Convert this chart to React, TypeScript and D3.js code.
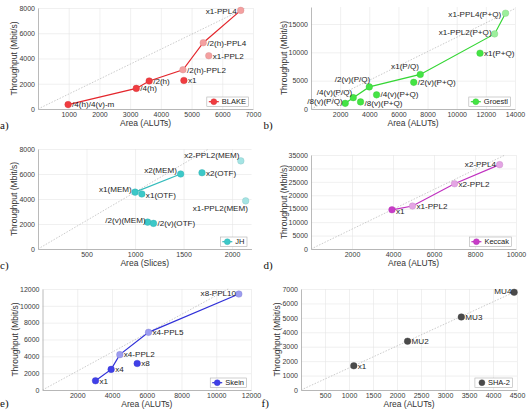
import { useEffect, useRef } from 'react';
import * as d3 from 'd3';

// a) BLAKE
const blakeDesigns = ['/4(h)/4(v)-m', '/4(h)', '/2(h)', '/2(h)-PPL2', '/2(h)-PPL4', 'x1-PPL4', 'x1', 'x1-PPL2'];
const blakeArea = [980, 3200, 3620, 4720, 5380, 6600, 4750, 5560];
const blakeThroughput = [350, 1630, 2220, 3110, 5250, 7810, 2260, 4220];
const blakeFront = ['/4(h)/4(v)-m', '/4(h)', '/2(h)', '/2(h)-PPL2', '/2(h)-PPL4', 'x1-PPL4'];
const blakeXTicks = [1000, 2000, 3000, 4000, 5000, 6000, 7000];
const blakeYTicks = [0, 2000, 4000, 6000, 8000];

// b) Groestl
const groestlDesigns = ['/8(v)(P/Q)', '/4(v)(P/Q)', '/2(v)(P/Q)', 'x1(P/Q)', 'x1-PPL2(P+Q)', 'x1-PPL4(P+Q)', '/8(v)(P+Q)', '/4(v)(P+Q)', '/2(v)(P+Q)', 'x1(P+Q)'];
const groestlArea = [2350, 2900, 4000, 7500, 12600, 13350, 3400, 4500, 7050, 11600];
const groestlThroughput = [1000, 2000, 3900, 6100, 13250, 16900, 1250, 2500, 4700, 9850];
const groestlFront = ['/8(v)(P/Q)', '/4(v)(P/Q)', '/2(v)(P/Q)', 'x1(P/Q)', 'x1-PPL2(P+Q)', 'x1-PPL4(P+Q)'];
const groestlXTicks = [2000, 4000, 6000, 8000, 10000, 12000, 14000];
const groestlYTicks = [0, 5000, 10000, 15000];

// c) JH
const jhDesigns = ['x1(MEM)', 'x2(MEM)', 'x1(OTF)', 'x2(OTF)', '/2(v)(MEM)', '/2(v)(OTF)', 'x1-PPL2(MEM)', 'x2-PPL2(MEM)'];
const jhArea = [1000, 1470, 1070, 1690, 1130, 1190, 2140, 2090];
const jhThroughput = [4550, 6000, 4400, 6100, 2150, 2050, 3850, 7050];
const jhFront = ['x1(MEM)', 'x2(MEM)'];
const jhXTicks = [500, 1000, 1500, 2000];
const jhYTicks = [0, 2000, 4000, 6000, 8000];

// d) Keccak
const keccakDesigns = ['x1', 'x1-PPL2', 'x2-PPL2', 'x2-PPL4'];
const keccakArea = [3950, 4950, 7000, 9200];
const keccakThroughput = [14600, 16000, 24300, 31400];
const keccakFront = ['x1', 'x1-PPL2', 'x2-PPL2', 'x2-PPL4'];
const keccakXTicks = [2000, 4000, 6000, 8000, 10000];
const keccakYTicks = [0, 5000, 10000, 15000, 20000, 25000, 30000, 35000];

// e) Skein
const skeinDesigns = ['x1', 'x4', 'x4-PPL2', 'x4-PPL5', 'x8-PPL10', 'x8'];
const skeinArea = [3050, 3950, 4450, 6100, 11300, 5450];
const skeinThroughput = [1100, 2450, 4200, 6850, 11400, 3150];
const skeinFront = ['x1', 'x4', 'x4-PPL2', 'x4-PPL5', 'x8-PPL10'];
const skeinXTicks = [2000, 4000, 6000, 8000, 10000, 12000];
const skeinYTicks = [0, 2000, 4000, 6000, 8000, 10000, 12000];

// f) SHA-2
const shaDesigns = ['x1', 'MU2', 'MU3', 'MU4'];
const shaArea = [1100, 2220, 3340, 4440];
const shaThroughput = [1680, 3380, 5060, 6770];
const shaFront: string[] = [];
const shaXTicks = [500, 1000, 1500, 2000, 2500, 3000, 3500, 4000, 4500];
const shaYTicks = [0, 1000, 2000, 3000, 4000, 5000, 6000, 7000];

const FONT = 'Arial, "Liberation Sans", Helvetica, sans-serif';

type Place = [string, number, number]; // anchor, dx, dy

interface Panel {
  letter: string; letterX: number; letterY: number;
  name: string; names: string[]; xs: number[]; ys: number[]; front: string[];
  xTicks: number[]; yTicks: number[]; xMax: number; yMax: number; xTitle: string;
  box: { l: number; r: number; t: number; b: number };
  base: string; light: string; line: string;
  place: Record<string, Place>;
}

const panels: Panel[] = [
  {
    letter: 'a)', letterX: 0, letterY: 129, name: 'BLAKE',
    names: blakeDesigns, xs: blakeArea, ys: blakeThroughput, front: blakeFront,
    xTicks: blakeXTicks, yTicks: blakeYTicks, xMax: 7000, yMax: 8000, xTitle: 'Area (ALUTs)',
    box: { l: 38, r: 253, t: 8, b: 109 },
    base: '#f03c40', light: '#f4a0a0', line: '#e4262c',
    place: { 'x1-PPL4': ['end', -4, 1] },
  },
  {
    letter: 'b)', letterX: 263.5, letterY: 129, name: 'Groestl',
    names: groestlDesigns, xs: groestlArea, ys: groestlThroughput, front: groestlFront,
    xTicks: groestlXTicks, yTicks: groestlYTicks, xMax: 14000, yMax: 18000, xTitle: 'Area (ALUTs)',
    box: { l: 311, r: 515, t: 7, b: 109 },
    base: '#44e444', light: '#9cef9c', line: '#34d634',
    place: {
      '/8(v)(P/Q)': ['end', -2.5, -2],
      '/4(v)(P/Q)': ['end', -1, -6],
      '/2(v)(P/Q)': ['end', 1, -7.3],
      'x1(P/Q)': ['end', -1.3, -8],
      'x1-PPL2(P+Q)': ['end', -3, -2],
      'x1-PPL4(P+Q)': ['end', -4.3, 0.7],
      '/8(v)(P+Q)': ['start', 4, 0.8],
      '/4(v)(P+Q)': ['start', 4, -0.4],
    },
  },
  {
    letter: 'c)', letterX: 0, letterY: 269, name: 'JH',
    names: jhDesigns, xs: jhArea, ys: jhThroughput, front: jhFront,
    xTicks: jhXTicks, yTicks: jhYTicks, xMax: 2200, yMax: 8000, xTitle: 'Area (Slices)',
    box: { l: 38, r: 251.5, t: 149, b: 249 },
    base: '#3cc8c8', light: '#a4e4e4', line: '#34bcbc',
    place: {
      'x2-PPL2(MEM)': ['end', -1.3, -6],
      'x2(MEM)': ['end', -3.7, -4.3],
      'x1(MEM)': ['end', -3.3, -3.3],
      'x1-PPL2(MEM)': ['end', 2.3, 7],
      '/2(v)(MEM)': ['end', -2, -2],
      'x1(OTF)': ['start', 4, 1.3],
    },
  },
  {
    letter: 'd)', letterX: 263.5, letterY: 269, name: 'Keccak',
    names: keccakDesigns, xs: keccakArea, ys: keccakThroughput, front: keccakFront,
    xTicks: keccakXTicks, yTicks: keccakYTicks, xMax: 10000, yMax: 35000, xTitle: 'Area (ALUTs)',
    box: { l: 311, r: 516, t: 155, b: 249 },
    base: '#c83cc8', light: '#e4a4e4', line: '#c030c0',
    place: { 'x2-PPL4': ['end', -3.7, -0.7], x1: ['start', 4, 1] },
  },
  {
    letter: 'e)', letterX: 0, letterY: 407, name: 'Skein',
    names: skeinDesigns, xs: skeinArea, ys: skeinThroughput, front: skeinFront,
    xTicks: skeinXTicks, yTicks: skeinYTicks, xMax: 12000, yMax: 12000, xTitle: 'Area (ALUTs)',
    box: { l: 42.5, r: 251, t: 289, b: 390 },
    base: '#4040e8', light: '#9c9cf0', line: '#3030d8',
    place: { 'x8-PPL10': ['end', -2.7, -1] },
  },
  {
    letter: 'f)', letterX: 261.5, letterY: 407, name: 'SHA-2',
    names: shaDesigns, xs: shaArea, ys: shaThroughput, front: shaFront,
    xTicks: shaXTicks, yTicks: shaYTicks, xMax: 4500, yMax: 7000, xTitle: 'Area (ALUTs)',
    box: { l: 301, r: 517, t: 289, b: 390 },
    base: '#4a4a4a', light: '#4a4a4a', line: '#4a4a4a',
    place: { MU4: ['end', -2.7, -1] },
  },
];

function drawPanel(svg: d3.Selection<SVGSVGElement, unknown, null, undefined>, p: Panel) {
  const { l, r, t, b } = p.box;
  const x = d3.scaleLinear().domain([0, p.xMax]).range([l, r]);
  const y = d3.scaleLinear().domain([0, p.yMax]).range([b, t]);
  const g = svg.append('g');

  // grid
  g.append('g')
    .attr('transform', `translate(0,${b})`)
    .call(d3.axisBottom(x).tickValues(p.xTicks).tickSize(-(b - t)).tickSizeOuter(0).tickFormat(() => ''))
    .call(s => s.select('.domain').remove())
    .selectAll('line').attr('stroke', '#e6e6e6').attr('stroke-width', 0.6);
  g.append('g')
    .attr('transform', `translate(${l},0)`)
    .call(d3.axisLeft(y).tickValues(p.yTicks).tickSize(-(r - l)).tickSizeOuter(0).tickFormat(() => ''))
    .call(s => s.select('.domain').remove())
    .selectAll('line').attr('stroke', '#e6e6e6').attr('stroke-width', 0.6);

  // axes
  const xa = g.append('g')
    .attr('transform', `translate(0,${b})`)
    .call(d3.axisBottom(x).tickValues(p.xTicks).tickSize(0).tickSizeOuter(0).tickPadding(3).tickFormat(d3.format('d')));
  const ya = g.append('g')
    .attr('transform', `translate(${l},0)`)
    .call(d3.axisLeft(y).tickValues(p.yTicks).tickSize(0).tickSizeOuter(0).tickPadding(3).tickFormat(d3.format('d')));
  [xa, ya].forEach(a => {
    a.attr('font-size', 7).attr('font-family', FONT).style('color', '#3a3a3a');
    a.select('.domain').attr('stroke', '#a8a8a8').attr('stroke-width', 0.8);
  });

  // reference line through the most efficient design
  const slope = d3.max(p.xs.map((v, i) => p.ys[i] / v)) ?? 1;
  const xEnd = Math.min(p.xMax, p.yMax / slope);
  g.append('line')
    .attr('x1', x(0)).attr('y1', y(0))
    .attr('x2', x(xEnd)).attr('y2', y(xEnd * slope))
    .attr('stroke', '#b4b4b4').attr('stroke-width', 0.7).attr('stroke-dasharray', '1.5,1.5');

  const pts = p.names.map((n, i) => ({ n, a: p.xs[i], v: p.ys[i] }));
  const fill = (n: string) => (n.includes('PPL') ? p.light : p.base);

  // design-space front
  if (p.front.length > 1) {
    const frontPts = p.front.map(n => pts.find(d => d.n === n)!);
    const line = d3.line<{ a: number; v: number }>().x(d => x(d.a)).y(d => y(d.v));
    g.append('path')
      .attr('d', line(frontPts) ?? '')
      .attr('fill', 'none').attr('stroke', p.line).attr('stroke-width', 1.2);
  }

  g.selectAll('circle.pt')
    .data(pts).join('circle')
    .attr('class', 'pt')
    .attr('cx', d => x(d.a)).attr('cy', d => y(d.v)).attr('r', 3.3)
    .attr('fill', d => fill(d.n))
    .attr('stroke', d => d3.color(fill(d.n))!.darker(0.4).toString()).attr('stroke-width', 0.4);

  const placeOf = (n: string): Place => p.place[n] ?? ['start', 4, 0];
  g.selectAll('text.lbl')
    .data(pts).join('text')
    .attr('class', 'lbl')
    .attr('x', d => x(d.a) + placeOf(d.n)[1])
    .attr('y', d => y(d.v) + placeOf(d.n)[2])
    .attr('dy', '0.35em')
    .attr('text-anchor', d => placeOf(d.n)[0])
    .attr('font-family', FONT).attr('font-size', 8.1).attr('fill', '#1e1e1e')
    .text(d => d.n);

  // axis titles
  let maxTick = 0;
  ya.selectAll<SVGTextElement, unknown>('text').each(function () {
    maxTick = Math.max(maxTick, this.getComputedTextLength());
  });
  g.append('text')
    .attr('transform', `translate(${l - 3 - maxTick - 5},${(t + b) / 2}) rotate(-90)`)
    .attr('dy', '0.35em').attr('text-anchor', 'middle')
    .attr('font-family', FONT).attr('font-size', 8.5).attr('fill', '#333')
    .text('Throughput (Mbit/s)');
  g.append('text')
    .attr('x', (l + r) / 2).attr('y', b + 16.5).attr('text-anchor', 'middle')
    .attr('font-family', FONT).attr('font-size', 8.5).attr('fill', '#333')
    .text(p.xTitle);

  // legend
  const hasLine = p.front.length > 1;
  const lg = g.append('g');
  const box = lg.append('rect');
  const txt = lg.append('text')
    .attr('font-family', FONT).attr('font-size', 7.5).attr('fill', '#222')
    .text(p.name);
  const tw = (txt.node() as SVGTextElement).getComputedTextLength();
  const textOff = hasLine ? 15 : 13;
  const bw = textOff + tw + 2.5;
  const bh = 9.4;
  const bx = r - 4.5 - bw;
  const by = b - 2.6 - bh;
  box.attr('x', bx).attr('y', by).attr('width', bw).attr('height', bh)
    .attr('fill', '#fff').attr('stroke', '#b0b0b0').attr('stroke-width', 0.6);
  if (hasLine) {
    lg.append('line')
      .attr('x1', bx + 2).attr('x2', bx + 12).attr('y1', by + bh / 2).attr('y2', by + bh / 2)
      .attr('stroke', p.line).attr('stroke-width', 1.2);
  }
  lg.append('circle')
    .attr('cx', bx + 7).attr('cy', by + bh / 2).attr('r', 3)
    .attr('fill', p.base).attr('stroke', d3.color(p.base)!.darker(0.4).toString()).attr('stroke-width', 0.4);
  txt.attr('x', bx + textOff).attr('y', by + bh / 2).attr('dy', '0.35em');

  svg.append('text')
    .attr('x', p.letterX).attr('y', p.letterY)
    .attr('font-family', '"Liberation Serif", "Times New Roman", serif').attr('font-size', 11).attr('fill', '#111')
    .text(p.letter);
}

export default function App() {
  const svgRef = useRef<SVGSVGElement>(null);

  useEffect(() => {
    if (!svgRef.current) return;
    const svg = d3.select(svgRef.current);
    svg.selectAll('*').remove();
    panels.forEach(p => drawPanel(svg, p));
  }, []);

  return (
    <div style={{ position: 'absolute', left: 0, top: 0 }}>
      <svg ref={svgRef} width={529} height={413} style={{ display: 'block', background: '#fff' }} />
    </div>
  );
}
